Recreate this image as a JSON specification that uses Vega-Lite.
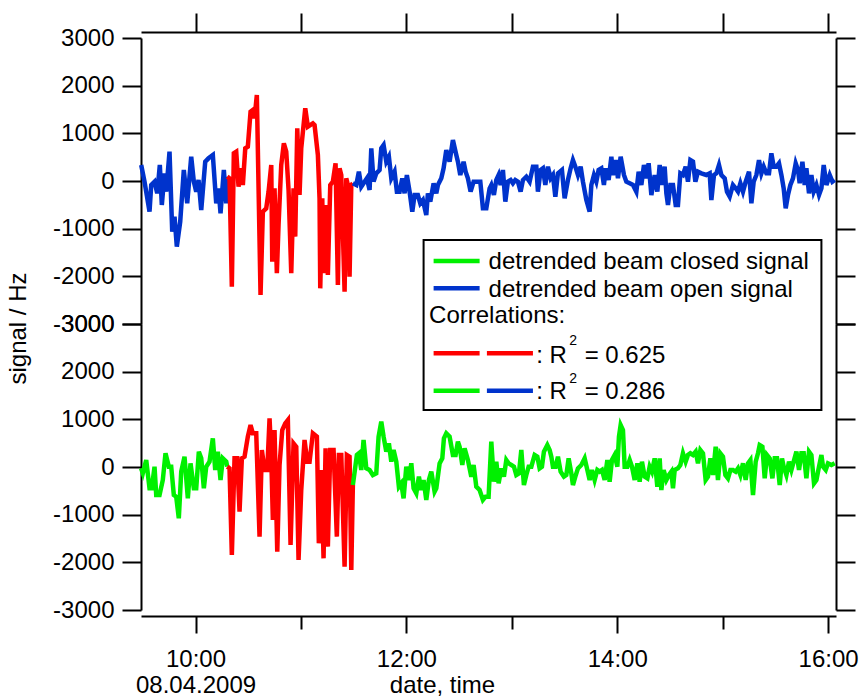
{
  "$schema": "https://vega.github.io/schema/vega-lite/v6.json",
  "background": "white",
  "padding": {"top": 12, "left": 6, "right": 0, "bottom": 0},
  "config": {
    "view": {"stroke": null},
    "font": "Liberation Sans",
    "axis": {
      "grid": false,
      "domainColor": "black",
      "domainWidth": 2,
      "tickColor": "black",
      "tickWidth": 2,
      "labelColor": "black",
      "labelFont": "Liberation Sans",
      "labelFontSize": 24,
      "titleFont": "Liberation Sans",
      "titleFontSize": 24,
      "titleFontWeight": "normal",
      "titleColor": "black"
    }
  },
  "datasets": {
    "signals": [
      {"time": "2009-04-08T09:29:05", "signal": 336, "beam": "open", "part": "before"},
      {"time": "2009-04-08T09:30:58", "signal": -14, "beam": "open", "part": "before"},
      {"time": "2009-04-08T09:33:49", "signal": -643, "beam": "open", "part": "before"},
      {"time": "2009-04-08T09:34:47", "signal": -84, "beam": "open", "part": "before"},
      {"time": "2009-04-08T09:36:40", "signal": -14, "beam": "open", "part": "before"},
      {"time": "2009-04-08T09:38:12", "signal": -259, "beam": "open", "part": "before"},
      {"time": "2009-04-08T09:39:41", "signal": 336, "beam": "open", "part": "before"},
      {"time": "2009-04-08T09:40:49", "signal": -503, "beam": "open", "part": "before"},
      {"time": "2009-04-08T09:42:21", "signal": 161, "beam": "open", "part": "before"},
      {"time": "2009-04-08T09:43:19", "signal": -224, "beam": "open", "part": "before"},
      {"time": "2009-04-08T09:45:12", "signal": 615, "beam": "open", "part": "before"},
      {"time": "2009-04-08T09:46:44", "signal": -1063, "beam": "open", "part": "before"},
      {"time": "2009-04-08T09:48:03", "signal": -748, "beam": "open", "part": "before"},
      {"time": "2009-04-08T09:49:21", "signal": -1378, "beam": "open", "part": "before"},
      {"time": "2009-04-08T09:51:17", "signal": -853, "beam": "open", "part": "before"},
      {"time": "2009-04-08T09:53:20", "signal": 231, "beam": "open", "part": "before"},
      {"time": "2009-04-08T09:55:16", "signal": -468, "beam": "open", "part": "before"},
      {"time": "2009-04-08T09:57:33", "signal": 510, "beam": "open", "part": "before"},
      {"time": "2009-04-08T09:59:02", "signal": -14, "beam": "open", "part": "before"},
      {"time": "2009-04-08T10:00:24", "signal": -224, "beam": "open", "part": "before"},
      {"time": "2009-04-08T10:01:43", "signal": 21, "beam": "open", "part": "before"},
      {"time": "2009-04-08T10:03:15", "signal": -608, "beam": "open", "part": "before"},
      {"time": "2009-04-08T10:05:31", "signal": 405, "beam": "open", "part": "before"},
      {"time": "2009-04-08T10:07:24", "signal": 476, "beam": "open", "part": "before"},
      {"time": "2009-04-08T10:09:51", "signal": 545, "beam": "open", "part": "before"},
      {"time": "2009-04-08T10:11:47", "signal": -468, "beam": "open", "part": "before"},
      {"time": "2009-04-08T10:13:05", "signal": -154, "beam": "open", "part": "before"},
      {"time": "2009-04-08T10:14:14", "signal": -678, "beam": "open", "part": "before"},
      {"time": "2009-04-08T10:16:07", "signal": 231, "beam": "open", "part": "before"},
      {"time": "2009-04-08T10:17:29", "signal": -468, "beam": "open", "part": "before"},
      {"time": "2009-04-08T10:18:03", "signal": 91, "beam": "open", "part": "before"},
      {"time": "2009-04-08T10:18:03", "signal": 91, "beam": "open", "part": "correlated"},
      {"time": "2009-04-08T10:19:21", "signal": 56, "beam": "open", "part": "correlated"},
      {"time": "2009-04-08T10:20:40", "signal": -2217, "beam": "open", "part": "correlated"},
      {"time": "2009-04-08T10:21:48", "signal": 581, "beam": "open", "part": "correlated"},
      {"time": "2009-04-08T10:23:10", "signal": 615, "beam": "open", "part": "correlated"},
      {"time": "2009-04-08T10:24:29", "signal": -120, "beam": "open", "part": "correlated"},
      {"time": "2009-04-08T10:25:37", "signal": 266, "beam": "open", "part": "correlated"},
      {"time": "2009-04-08T10:26:56", "signal": -84, "beam": "open", "part": "correlated"},
      {"time": "2009-04-08T10:28:18", "signal": 686, "beam": "open", "part": "correlated"},
      {"time": "2009-04-08T10:29:46", "signal": 720, "beam": "open", "part": "correlated"},
      {"time": "2009-04-08T10:31:19", "signal": 1454, "beam": "open", "part": "correlated"},
      {"time": "2009-04-08T10:32:37", "signal": 1490, "beam": "open", "part": "correlated"},
      {"time": "2009-04-08T10:33:35", "signal": 1315, "beam": "open", "part": "correlated"},
      {"time": "2009-04-08T10:34:54", "signal": 1804, "beam": "open", "part": "correlated"},
      {"time": "2009-04-08T10:37:00", "signal": -2392, "beam": "open", "part": "correlated"},
      {"time": "2009-04-08T10:38:19", "signal": -643, "beam": "open", "part": "correlated"},
      {"time": "2009-04-08T10:40:15", "signal": -573, "beam": "open", "part": "correlated"},
      {"time": "2009-04-08T10:41:34", "signal": -224, "beam": "open", "part": "correlated"},
      {"time": "2009-04-08T10:43:06", "signal": 336, "beam": "open", "part": "correlated"},
      {"time": "2009-04-08T10:43:40", "signal": -1693, "beam": "open", "part": "correlated"},
      {"time": "2009-04-08T10:44:58", "signal": -154, "beam": "open", "part": "correlated"},
      {"time": "2009-04-08T10:46:17", "signal": -1936, "beam": "open", "part": "correlated"},
      {"time": "2009-04-08T10:47:15", "signal": -923, "beam": "open", "part": "correlated"},
      {"time": "2009-04-08T10:48:47", "signal": 336, "beam": "open", "part": "correlated"},
      {"time": "2009-04-08T10:50:16", "signal": 791, "beam": "open", "part": "correlated"},
      {"time": "2009-04-08T10:51:38", "signal": 615, "beam": "open", "part": "correlated"},
      {"time": "2009-04-08T10:52:57", "signal": -189, "beam": "open", "part": "correlated"},
      {"time": "2009-04-08T10:54:29", "signal": -1936, "beam": "open", "part": "correlated"},
      {"time": "2009-04-08T10:55:47", "signal": -154, "beam": "open", "part": "correlated"},
      {"time": "2009-04-08T10:56:45", "signal": -1168, "beam": "open", "part": "correlated"},
      {"time": "2009-04-08T10:57:54", "signal": 1105, "beam": "open", "part": "correlated"},
      {"time": "2009-04-08T10:59:12", "signal": -294, "beam": "open", "part": "correlated"},
      {"time": "2009-04-08T11:00:10", "signal": 686, "beam": "open", "part": "correlated"},
      {"time": "2009-04-08T11:02:27", "signal": 1525, "beam": "open", "part": "correlated"},
      {"time": "2009-04-08T11:03:56", "signal": 1140, "beam": "open", "part": "correlated"},
      {"time": "2009-04-08T11:06:47", "signal": 1210, "beam": "open", "part": "correlated"},
      {"time": "2009-04-08T11:07:45", "signal": 1175, "beam": "open", "part": "correlated"},
      {"time": "2009-04-08T11:09:38", "signal": 545, "beam": "open", "part": "correlated"},
      {"time": "2009-04-08T11:10:35", "signal": -363, "beam": "open", "part": "correlated"},
      {"time": "2009-04-08T11:10:59", "signal": -2252, "beam": "open", "part": "correlated"},
      {"time": "2009-04-08T11:12:08", "signal": -363, "beam": "open", "part": "correlated"},
      {"time": "2009-04-08T11:12:52", "signal": -1936, "beam": "open", "part": "correlated"},
      {"time": "2009-04-08T11:14:24", "signal": -503, "beam": "open", "part": "correlated"},
      {"time": "2009-04-08T11:15:19", "signal": -1972, "beam": "open", "part": "correlated"},
      {"time": "2009-04-08T11:16:41", "signal": -84, "beam": "open", "part": "correlated"},
      {"time": "2009-04-08T11:18:10", "signal": -14, "beam": "open", "part": "correlated"},
      {"time": "2009-04-08T11:19:42", "signal": 371, "beam": "open", "part": "correlated"},
      {"time": "2009-04-08T11:21:01", "signal": -2182, "beam": "open", "part": "correlated"},
      {"time": "2009-04-08T11:21:59", "signal": 266, "beam": "open", "part": "correlated"},
      {"time": "2009-04-08T11:22:57", "signal": 126, "beam": "open", "part": "correlated"},
      {"time": "2009-04-08T11:24:50", "signal": -2322, "beam": "open", "part": "correlated"},
      {"time": "2009-04-08T11:25:48", "signal": 56, "beam": "open", "part": "correlated"},
      {"time": "2009-04-08T11:26:42", "signal": -84, "beam": "open", "part": "correlated"},
      {"time": "2009-04-08T11:27:40", "signal": -2007, "beam": "open", "part": "correlated"},
      {"time": "2009-04-08T11:28:39", "signal": -84, "beam": "open", "part": "correlated"},
      {"time": "2009-04-08T11:29:33", "signal": -49, "beam": "open", "part": "correlated"},
      {"time": "2009-04-08T11:29:33", "signal": -49, "beam": "open", "part": "after"},
      {"time": "2009-04-08T11:31:29", "signal": -84, "beam": "open", "part": "after"},
      {"time": "2009-04-08T11:32:58", "signal": 196, "beam": "open", "part": "after"},
      {"time": "2009-04-08T11:34:20", "signal": -120, "beam": "open", "part": "after"},
      {"time": "2009-04-08T11:36:13", "signal": -14, "beam": "open", "part": "after"},
      {"time": "2009-04-08T11:37:31", "signal": 56, "beam": "open", "part": "after"},
      {"time": "2009-04-08T11:39:04", "signal": -189, "beam": "open", "part": "after"},
      {"time": "2009-04-08T11:40:02", "signal": 686, "beam": "open", "part": "after"},
      {"time": "2009-04-08T11:41:20", "signal": -14, "beam": "open", "part": "after"},
      {"time": "2009-04-08T11:42:52", "signal": 161, "beam": "open", "part": "after"},
      {"time": "2009-04-08T11:44:45", "signal": 231, "beam": "open", "part": "after"},
      {"time": "2009-04-08T11:45:43", "signal": 686, "beam": "open", "part": "after"},
      {"time": "2009-04-08T11:47:02", "signal": 755, "beam": "open", "part": "after"},
      {"time": "2009-04-08T11:48:34", "signal": 405, "beam": "open", "part": "after"},
      {"time": "2009-04-08T11:50:03", "signal": 510, "beam": "open", "part": "after"},
      {"time": "2009-04-08T11:51:25", "signal": 56, "beam": "open", "part": "after"},
      {"time": "2009-04-08T11:53:17", "signal": 196, "beam": "open", "part": "after"},
      {"time": "2009-04-08T11:54:36", "signal": -224, "beam": "open", "part": "after"},
      {"time": "2009-04-08T11:56:08", "signal": -224, "beam": "open", "part": "after"},
      {"time": "2009-04-08T11:57:41", "signal": 56, "beam": "open", "part": "after"},
      {"time": "2009-04-08T11:58:59", "signal": -259, "beam": "open", "part": "after"},
      {"time": "2009-04-08T12:00:17", "signal": 126, "beam": "open", "part": "after"},
      {"time": "2009-04-08T12:01:50", "signal": -224, "beam": "open", "part": "after"},
      {"time": "2009-04-08T12:03:22", "signal": -643, "beam": "open", "part": "after"},
      {"time": "2009-04-08T12:04:41", "signal": -294, "beam": "open", "part": "after"},
      {"time": "2009-04-08T12:06:33", "signal": -294, "beam": "open", "part": "after"},
      {"time": "2009-04-08T12:07:55", "signal": -468, "beam": "open", "part": "after"},
      {"time": "2009-04-08T12:09:24", "signal": -399, "beam": "open", "part": "after"},
      {"time": "2009-04-08T12:11:20", "signal": -713, "beam": "open", "part": "after"},
      {"time": "2009-04-08T12:12:15", "signal": -259, "beam": "open", "part": "after"},
      {"time": "2009-04-08T12:13:37", "signal": -434, "beam": "open", "part": "after"},
      {"time": "2009-04-08T12:15:30", "signal": -49, "beam": "open", "part": "after"},
      {"time": "2009-04-08T12:17:02", "signal": -259, "beam": "open", "part": "after"},
      {"time": "2009-04-08T12:17:57", "signal": -84, "beam": "open", "part": "after"},
      {"time": "2009-04-08T12:19:53", "signal": 56, "beam": "open", "part": "after"},
      {"time": "2009-04-08T12:21:11", "signal": 266, "beam": "open", "part": "after"},
      {"time": "2009-04-08T12:22:43", "signal": 650, "beam": "open", "part": "after"},
      {"time": "2009-04-08T12:24:36", "signal": 405, "beam": "open", "part": "after"},
      {"time": "2009-04-08T12:26:29", "signal": 860, "beam": "open", "part": "after"},
      {"time": "2009-04-08T12:28:25", "signal": 545, "beam": "open", "part": "after"},
      {"time": "2009-04-08T12:29:20", "signal": 405, "beam": "open", "part": "after"},
      {"time": "2009-04-08T12:30:41", "signal": 126, "beam": "open", "part": "after"},
      {"time": "2009-04-08T12:32:34", "signal": 405, "beam": "open", "part": "after"},
      {"time": "2009-04-08T12:33:43", "signal": 196, "beam": "open", "part": "after"},
      {"time": "2009-04-08T12:35:01", "signal": 56, "beam": "open", "part": "after"},
      {"time": "2009-04-08T12:36:33", "signal": -224, "beam": "open", "part": "after"},
      {"time": "2009-04-08T12:38:16", "signal": -14, "beam": "open", "part": "after"},
      {"time": "2009-04-08T12:39:48", "signal": -14, "beam": "open", "part": "after"},
      {"time": "2009-04-08T12:42:05", "signal": -14, "beam": "open", "part": "after"},
      {"time": "2009-04-08T12:43:34", "signal": -573, "beam": "open", "part": "after"},
      {"time": "2009-04-08T12:45:30", "signal": -573, "beam": "open", "part": "after"},
      {"time": "2009-04-08T12:47:22", "signal": -154, "beam": "open", "part": "after"},
      {"time": "2009-04-08T12:48:20", "signal": -84, "beam": "open", "part": "after"},
      {"time": "2009-04-08T12:49:49", "signal": -294, "beam": "open", "part": "after"},
      {"time": "2009-04-08T12:51:11", "signal": 21, "beam": "open", "part": "after"},
      {"time": "2009-04-08T12:52:30", "signal": 126, "beam": "open", "part": "after"},
      {"time": "2009-04-08T12:53:38", "signal": -84, "beam": "open", "part": "after"},
      {"time": "2009-04-08T12:54:57", "signal": 231, "beam": "open", "part": "after"},
      {"time": "2009-04-08T12:56:19", "signal": -434, "beam": "open", "part": "after"},
      {"time": "2009-04-08T12:57:47", "signal": -14, "beam": "open", "part": "after"},
      {"time": "2009-04-08T12:59:20", "signal": 21, "beam": "open", "part": "after"},
      {"time": "2009-04-08T13:00:38", "signal": -49, "beam": "open", "part": "after"},
      {"time": "2009-04-08T13:02:00", "signal": 21, "beam": "open", "part": "after"},
      {"time": "2009-04-08T13:03:29", "signal": -14, "beam": "open", "part": "after"},
      {"time": "2009-04-08T13:05:01", "signal": -224, "beam": "open", "part": "after"},
      {"time": "2009-04-08T13:06:20", "signal": 21, "beam": "open", "part": "after"},
      {"time": "2009-04-08T13:08:16", "signal": 91, "beam": "open", "part": "after"},
      {"time": "2009-04-08T13:10:09", "signal": -14, "beam": "open", "part": "after"},
      {"time": "2009-04-08T13:12:02", "signal": 301, "beam": "open", "part": "after"},
      {"time": "2009-04-08T13:13:58", "signal": 301, "beam": "open", "part": "after"},
      {"time": "2009-04-08T13:14:52", "signal": -224, "beam": "open", "part": "after"},
      {"time": "2009-04-08T13:16:25", "signal": 231, "beam": "open", "part": "after"},
      {"time": "2009-04-08T13:17:43", "signal": 266, "beam": "open", "part": "after"},
      {"time": "2009-04-08T13:19:05", "signal": -84, "beam": "open", "part": "after"},
      {"time": "2009-04-08T13:20:34", "signal": 301, "beam": "open", "part": "after"},
      {"time": "2009-04-08T13:22:06", "signal": 56, "beam": "open", "part": "after"},
      {"time": "2009-04-08T13:23:25", "signal": 126, "beam": "open", "part": "after"},
      {"time": "2009-04-08T13:24:47", "signal": -329, "beam": "open", "part": "after"},
      {"time": "2009-04-08T13:26:16", "signal": 161, "beam": "open", "part": "after"},
      {"time": "2009-04-08T13:28:32", "signal": 231, "beam": "open", "part": "after"},
      {"time": "2009-04-08T13:30:04", "signal": -363, "beam": "open", "part": "after"},
      {"time": "2009-04-08T13:31:57", "signal": 21, "beam": "open", "part": "after"},
      {"time": "2009-04-08T13:33:29", "signal": 266, "beam": "open", "part": "after"},
      {"time": "2009-04-08T13:34:48", "signal": 440, "beam": "open", "part": "after"},
      {"time": "2009-04-08T13:36:10", "signal": 301, "beam": "open", "part": "after"},
      {"time": "2009-04-08T13:37:39", "signal": 126, "beam": "open", "part": "after"},
      {"time": "2009-04-08T13:39:11", "signal": 301, "beam": "open", "part": "after"},
      {"time": "2009-04-08T13:40:29", "signal": -14, "beam": "open", "part": "after"},
      {"time": "2009-04-08T13:42:26", "signal": -399, "beam": "open", "part": "after"},
      {"time": "2009-04-08T13:44:18", "signal": -643, "beam": "open", "part": "after"},
      {"time": "2009-04-08T13:45:16", "signal": -84, "beam": "open", "part": "after"},
      {"time": "2009-04-08T13:46:45", "signal": 126, "beam": "open", "part": "after"},
      {"time": "2009-04-08T13:48:07", "signal": -14, "beam": "open", "part": "after"},
      {"time": "2009-04-08T13:49:25", "signal": 231, "beam": "open", "part": "after"},
      {"time": "2009-04-08T13:50:58", "signal": 266, "beam": "open", "part": "after"},
      {"time": "2009-04-08T13:52:26", "signal": -84, "beam": "open", "part": "after"},
      {"time": "2009-04-08T13:53:25", "signal": 266, "beam": "open", "part": "after"},
      {"time": "2009-04-08T13:55:07", "signal": 21, "beam": "open", "part": "after"},
      {"time": "2009-04-08T13:56:40", "signal": 510, "beam": "open", "part": "after"},
      {"time": "2009-04-08T13:57:34", "signal": 126, "beam": "open", "part": "after"},
      {"time": "2009-04-08T13:59:07", "signal": 440, "beam": "open", "part": "after"},
      {"time": "2009-04-08T14:00:25", "signal": 56, "beam": "open", "part": "after"},
      {"time": "2009-04-08T14:01:57", "signal": 510, "beam": "open", "part": "after"},
      {"time": "2009-04-08T14:03:50", "signal": 126, "beam": "open", "part": "after"},
      {"time": "2009-04-08T14:05:12", "signal": -14, "beam": "open", "part": "after"},
      {"time": "2009-04-08T14:07:05", "signal": -49, "beam": "open", "part": "after"},
      {"time": "2009-04-08T14:08:58", "signal": -84, "beam": "open", "part": "after"},
      {"time": "2009-04-08T14:10:53", "signal": -224, "beam": "open", "part": "after"},
      {"time": "2009-04-08T14:12:12", "signal": 196, "beam": "open", "part": "after"},
      {"time": "2009-04-08T14:13:44", "signal": -84, "beam": "open", "part": "after"},
      {"time": "2009-04-08T14:15:13", "signal": 336, "beam": "open", "part": "after"},
      {"time": "2009-04-08T14:16:35", "signal": 56, "beam": "open", "part": "after"},
      {"time": "2009-04-08T14:17:53", "signal": 371, "beam": "open", "part": "after"},
      {"time": "2009-04-08T14:19:26", "signal": -294, "beam": "open", "part": "after"},
      {"time": "2009-04-08T14:21:19", "signal": 126, "beam": "open", "part": "after"},
      {"time": "2009-04-08T14:22:50", "signal": -224, "beam": "open", "part": "after"},
      {"time": "2009-04-08T14:24:10", "signal": 336, "beam": "open", "part": "after"},
      {"time": "2009-04-08T14:25:41", "signal": -84, "beam": "open", "part": "after"},
      {"time": "2009-04-08T14:27:00", "signal": 301, "beam": "open", "part": "after"},
      {"time": "2009-04-08T14:27:58", "signal": -259, "beam": "open", "part": "after"},
      {"time": "2009-04-08T14:28:53", "signal": -503, "beam": "open", "part": "after"},
      {"time": "2009-04-08T14:30:15", "signal": -84, "beam": "open", "part": "after"},
      {"time": "2009-04-08T14:31:44", "signal": -84, "beam": "open", "part": "after"},
      {"time": "2009-04-08T14:33:16", "signal": -503, "beam": "open", "part": "after"},
      {"time": "2009-04-08T14:34:34", "signal": -503, "beam": "open", "part": "after"},
      {"time": "2009-04-08T14:35:56", "signal": 161, "beam": "open", "part": "after"},
      {"time": "2009-04-08T14:37:25", "signal": 126, "beam": "open", "part": "after"},
      {"time": "2009-04-08T14:38:57", "signal": 301, "beam": "open", "part": "after"},
      {"time": "2009-04-08T14:40:16", "signal": -14, "beam": "open", "part": "after"},
      {"time": "2009-04-08T14:41:38", "signal": 440, "beam": "open", "part": "after"},
      {"time": "2009-04-08T14:43:07", "signal": 405, "beam": "open", "part": "after"},
      {"time": "2009-04-08T14:44:29", "signal": -14, "beam": "open", "part": "after"},
      {"time": "2009-04-08T14:45:58", "signal": 196, "beam": "open", "part": "after"},
      {"time": "2009-04-08T14:47:54", "signal": 161, "beam": "open", "part": "after"},
      {"time": "2009-04-08T14:50:44", "signal": 126, "beam": "open", "part": "after"},
      {"time": "2009-04-08T14:52:37", "signal": 161, "beam": "open", "part": "after"},
      {"time": "2009-04-08T14:53:35", "signal": -399, "beam": "open", "part": "after"},
      {"time": "2009-04-08T14:55:04", "signal": 126, "beam": "open", "part": "after"},
      {"time": "2009-04-08T14:56:26", "signal": 161, "beam": "open", "part": "after"},
      {"time": "2009-04-08T14:57:55", "signal": 336, "beam": "open", "part": "after"},
      {"time": "2009-04-08T14:59:17", "signal": 126, "beam": "open", "part": "after"},
      {"time": "2009-04-08T15:01:10", "signal": 56, "beam": "open", "part": "after"},
      {"time": "2009-04-08T15:02:28", "signal": -224, "beam": "open", "part": "after"},
      {"time": "2009-04-08T15:04:01", "signal": -329, "beam": "open", "part": "after"},
      {"time": "2009-04-08T15:05:53", "signal": -84, "beam": "open", "part": "after"},
      {"time": "2009-04-08T15:07:25", "signal": -154, "beam": "open", "part": "after"},
      {"time": "2009-04-08T15:08:44", "signal": -224, "beam": "open", "part": "after"},
      {"time": "2009-04-08T15:10:06", "signal": -49, "beam": "open", "part": "after"},
      {"time": "2009-04-08T15:11:35", "signal": -224, "beam": "open", "part": "after"},
      {"time": "2009-04-08T15:13:07", "signal": -14, "beam": "open", "part": "after"},
      {"time": "2009-04-08T15:15:00", "signal": 196, "beam": "open", "part": "after"},
      {"time": "2009-04-08T15:16:22", "signal": -468, "beam": "open", "part": "after"},
      {"time": "2009-04-08T15:17:40", "signal": -14, "beam": "open", "part": "after"},
      {"time": "2009-04-08T15:19:13", "signal": 126, "beam": "open", "part": "after"},
      {"time": "2009-04-08T15:20:41", "signal": 440, "beam": "open", "part": "after"},
      {"time": "2009-04-08T15:22:03", "signal": 161, "beam": "open", "part": "after"},
      {"time": "2009-04-08T15:23:22", "signal": 301, "beam": "open", "part": "after"},
      {"time": "2009-04-08T15:24:54", "signal": 161, "beam": "open", "part": "after"},
      {"time": "2009-04-08T15:26:23", "signal": 161, "beam": "open", "part": "after"},
      {"time": "2009-04-08T15:27:44", "signal": 581, "beam": "open", "part": "after"},
      {"time": "2009-04-08T15:29:03", "signal": 301, "beam": "open", "part": "after"},
      {"time": "2009-04-08T15:30:35", "signal": 301, "beam": "open", "part": "after"},
      {"time": "2009-04-08T15:32:04", "signal": 371, "beam": "open", "part": "after"},
      {"time": "2009-04-08T15:33:26", "signal": 126, "beam": "open", "part": "after"},
      {"time": "2009-04-08T15:34:44", "signal": -154, "beam": "open", "part": "after"},
      {"time": "2009-04-08T15:35:53", "signal": -573, "beam": "open", "part": "after"},
      {"time": "2009-04-08T15:37:11", "signal": -294, "beam": "open", "part": "after"},
      {"time": "2009-04-08T15:38:33", "signal": -84, "beam": "open", "part": "after"},
      {"time": "2009-04-08T15:40:02", "signal": 56, "beam": "open", "part": "after"},
      {"time": "2009-04-08T15:41:35", "signal": 371, "beam": "open", "part": "after"},
      {"time": "2009-04-08T15:42:53", "signal": 231, "beam": "open", "part": "after"},
      {"time": "2009-04-08T15:43:51", "signal": -49, "beam": "open", "part": "after"},
      {"time": "2009-04-08T15:45:24", "signal": 405, "beam": "open", "part": "after"},
      {"time": "2009-04-08T15:46:42", "signal": -84, "beam": "open", "part": "after"},
      {"time": "2009-04-08T15:47:40", "signal": 266, "beam": "open", "part": "after"},
      {"time": "2009-04-08T15:49:09", "signal": -259, "beam": "open", "part": "after"},
      {"time": "2009-04-08T15:50:31", "signal": 126, "beam": "open", "part": "after"},
      {"time": "2009-04-08T15:51:50", "signal": -224, "beam": "open", "part": "after"},
      {"time": "2009-04-08T15:53:22", "signal": -84, "beam": "open", "part": "after"},
      {"time": "2009-04-08T15:54:51", "signal": -294, "beam": "open", "part": "after"},
      {"time": "2009-04-08T15:56:13", "signal": -154, "beam": "open", "part": "after"},
      {"time": "2009-04-08T15:57:31", "signal": 336, "beam": "open", "part": "after"},
      {"time": "2009-04-08T15:59:04", "signal": -84, "beam": "open", "part": "after"},
      {"time": "2009-04-08T16:00:56", "signal": 126, "beam": "open", "part": "after"},
      {"time": "2009-04-08T16:02:28", "signal": -14, "beam": "open", "part": "after"},
      {"time": "2009-04-08T16:03:47", "signal": 21, "beam": "open", "part": "after"},

      {"time": "2009-04-08T09:29:00", "signal": -28, "beam": "closed", "part": "before"},
      {"time": "2009-04-08T09:30:00", "signal": -133, "beam": "closed", "part": "before"},
      {"time": "2009-04-08T09:31:56", "signal": 147, "beam": "closed", "part": "before"},
      {"time": "2009-04-08T09:33:49", "signal": -447, "beam": "closed", "part": "before"},
      {"time": "2009-04-08T09:35:07", "signal": -447, "beam": "closed", "part": "before"},
      {"time": "2009-04-08T09:36:40", "signal": 7, "beam": "closed", "part": "before"},
      {"time": "2009-04-08T09:37:38", "signal": -587, "beam": "closed", "part": "before"},
      {"time": "2009-04-08T09:39:31", "signal": -587, "beam": "closed", "part": "before"},
      {"time": "2009-04-08T09:41:23", "signal": -273, "beam": "closed", "part": "before"},
      {"time": "2009-04-08T09:42:55", "signal": 287, "beam": "closed", "part": "before"},
      {"time": "2009-04-08T09:44:48", "signal": 7, "beam": "closed", "part": "before"},
      {"time": "2009-04-08T09:46:10", "signal": 7, "beam": "closed", "part": "before"},
      {"time": "2009-04-08T09:47:39", "signal": -587, "beam": "closed", "part": "before"},
      {"time": "2009-04-08T09:49:01", "signal": -623, "beam": "closed", "part": "before"},
      {"time": "2009-04-08T09:50:29", "signal": -1077, "beam": "closed", "part": "before"},
      {"time": "2009-04-08T09:51:52", "signal": -98, "beam": "closed", "part": "before"},
      {"time": "2009-04-08T09:53:44", "signal": 217, "beam": "closed", "part": "before"},
      {"time": "2009-04-08T09:55:37", "signal": -657, "beam": "closed", "part": "before"},
      {"time": "2009-04-08T09:57:09", "signal": 77, "beam": "closed", "part": "before"},
      {"time": "2009-04-08T09:59:02", "signal": -447, "beam": "closed", "part": "before"},
      {"time": "2009-04-08T10:00:24", "signal": -447, "beam": "closed", "part": "before"},
      {"time": "2009-04-08T10:01:53", "signal": 322, "beam": "closed", "part": "before"},
      {"time": "2009-04-08T10:03:15", "signal": 182, "beam": "closed", "part": "before"},
      {"time": "2009-04-08T10:04:44", "signal": -447, "beam": "closed", "part": "before"},
      {"time": "2009-04-08T10:06:05", "signal": 7, "beam": "closed", "part": "before"},
      {"time": "2009-04-08T10:07:58", "signal": 112, "beam": "closed", "part": "before"},
      {"time": "2009-04-08T10:09:51", "signal": 601, "beam": "closed", "part": "before"},
      {"time": "2009-04-08T10:11:13", "signal": -63, "beam": "closed", "part": "before"},
      {"time": "2009-04-08T10:12:42", "signal": 322, "beam": "closed", "part": "before"},
      {"time": "2009-04-08T10:14:14", "signal": -273, "beam": "closed", "part": "before"},
      {"time": "2009-04-08T10:15:32", "signal": 182, "beam": "closed", "part": "before"},
      {"time": "2009-04-08T10:17:29", "signal": 112, "beam": "closed", "part": "before"},
      {"time": "2009-04-08T10:18:03", "signal": 7, "beam": "closed", "part": "before"},
      {"time": "2009-04-08T10:18:03", "signal": 7, "beam": "closed", "part": "correlated"},
      {"time": "2009-04-08T10:19:21", "signal": -28, "beam": "closed", "part": "correlated"},
      {"time": "2009-04-08T10:20:40", "signal": -1846, "beam": "closed", "part": "correlated"},
      {"time": "2009-04-08T10:22:12", "signal": 182, "beam": "closed", "part": "correlated"},
      {"time": "2009-04-08T10:23:44", "signal": 182, "beam": "closed", "part": "correlated"},
      {"time": "2009-04-08T10:25:03", "signal": -937, "beam": "closed", "part": "correlated"},
      {"time": "2009-04-08T10:26:22", "signal": 182, "beam": "closed", "part": "correlated"},
      {"time": "2009-04-08T10:27:54", "signal": 217, "beam": "closed", "part": "correlated"},
      {"time": "2009-04-08T10:29:46", "signal": 636, "beam": "closed", "part": "correlated"},
      {"time": "2009-04-08T10:31:19", "signal": 881, "beam": "closed", "part": "correlated"},
      {"time": "2009-04-08T10:32:37", "signal": 706, "beam": "closed", "part": "correlated"},
      {"time": "2009-04-08T10:34:33", "signal": 706, "beam": "closed", "part": "correlated"},
      {"time": "2009-04-08T10:36:26", "signal": -1462, "beam": "closed", "part": "correlated"},
      {"time": "2009-04-08T10:37:45", "signal": 357, "beam": "closed", "part": "correlated"},
      {"time": "2009-04-08T10:39:17", "signal": -63, "beam": "closed", "part": "correlated"},
      {"time": "2009-04-08T10:40:49", "signal": -63, "beam": "closed", "part": "correlated"},
      {"time": "2009-04-08T10:42:08", "signal": 1021, "beam": "closed", "part": "correlated"},
      {"time": "2009-04-08T10:43:06", "signal": 217, "beam": "closed", "part": "correlated"},
      {"time": "2009-04-08T10:44:01", "signal": -1112, "beam": "closed", "part": "correlated"},
      {"time": "2009-04-08T10:44:58", "signal": 776, "beam": "closed", "part": "correlated"},
      {"time": "2009-04-08T10:46:31", "signal": -1776, "beam": "closed", "part": "correlated"},
      {"time": "2009-04-08T10:47:49", "signal": 42, "beam": "closed", "part": "correlated"},
      {"time": "2009-04-08T10:49:22", "signal": 776, "beam": "closed", "part": "correlated"},
      {"time": "2009-04-08T10:51:04", "signal": 916, "beam": "closed", "part": "correlated"},
      {"time": "2009-04-08T10:52:33", "signal": 986, "beam": "closed", "part": "correlated"},
      {"time": "2009-04-08T10:54:05", "signal": -1636, "beam": "closed", "part": "correlated"},
      {"time": "2009-04-08T10:55:47", "signal": 497, "beam": "closed", "part": "correlated"},
      {"time": "2009-04-08T10:57:20", "signal": 426, "beam": "closed", "part": "correlated"},
      {"time": "2009-04-08T10:58:38", "signal": -1951, "beam": "closed", "part": "correlated"},
      {"time": "2009-04-08T11:00:10", "signal": -483, "beam": "closed", "part": "correlated"},
      {"time": "2009-04-08T11:02:03", "signal": 566, "beam": "closed", "part": "correlated"},
      {"time": "2009-04-08T11:03:35", "signal": 112, "beam": "closed", "part": "correlated"},
      {"time": "2009-04-08T11:04:54", "signal": 112, "beam": "closed", "part": "correlated"},
      {"time": "2009-04-08T11:06:47", "signal": 706, "beam": "closed", "part": "correlated"},
      {"time": "2009-04-08T11:09:04", "signal": 636, "beam": "closed", "part": "correlated"},
      {"time": "2009-04-08T11:10:11", "signal": -1601, "beam": "closed", "part": "correlated"},
      {"time": "2009-04-08T11:11:34", "signal": -63, "beam": "closed", "part": "correlated"},
      {"time": "2009-04-08T11:12:52", "signal": -1916, "beam": "closed", "part": "correlated"},
      {"time": "2009-04-08T11:14:01", "signal": 392, "beam": "closed", "part": "correlated"},
      {"time": "2009-04-08T11:15:19", "signal": -1671, "beam": "closed", "part": "correlated"},
      {"time": "2009-04-08T11:16:41", "signal": 357, "beam": "closed", "part": "correlated"},
      {"time": "2009-04-08T11:18:34", "signal": 357, "beam": "closed", "part": "correlated"},
      {"time": "2009-04-08T11:20:26", "signal": -1462, "beam": "closed", "part": "correlated"},
      {"time": "2009-04-08T11:21:35", "signal": 252, "beam": "closed", "part": "correlated"},
      {"time": "2009-04-08T11:22:57", "signal": 252, "beam": "closed", "part": "correlated"},
      {"time": "2009-04-08T11:24:50", "signal": -2091, "beam": "closed", "part": "correlated"},
      {"time": "2009-04-08T11:26:08", "signal": 252, "beam": "closed", "part": "correlated"},
      {"time": "2009-04-08T11:27:40", "signal": 217, "beam": "closed", "part": "correlated"},
      {"time": "2009-04-08T11:28:39", "signal": -2161, "beam": "closed", "part": "correlated"},
      {"time": "2009-04-08T11:29:33", "signal": -378, "beam": "closed", "part": "correlated"},
      {"time": "2009-04-08T11:29:33", "signal": -378, "beam": "closed", "part": "after"},
      {"time": "2009-04-08T11:31:50", "signal": 252, "beam": "closed", "part": "after"},
      {"time": "2009-04-08T11:32:58", "signal": 287, "beam": "closed", "part": "after"},
      {"time": "2009-04-08T11:34:20", "signal": -63, "beam": "closed", "part": "after"},
      {"time": "2009-04-08T11:35:38", "signal": 566, "beam": "closed", "part": "after"},
      {"time": "2009-04-08T11:37:11", "signal": -28, "beam": "closed", "part": "after"},
      {"time": "2009-04-08T11:39:04", "signal": -63, "beam": "closed", "part": "after"},
      {"time": "2009-04-08T11:40:56", "signal": -168, "beam": "closed", "part": "after"},
      {"time": "2009-04-08T11:42:52", "signal": -133, "beam": "closed", "part": "after"},
      {"time": "2009-04-08T11:44:11", "signal": 636, "beam": "closed", "part": "after"},
      {"time": "2009-04-08T11:45:43", "signal": 951, "beam": "closed", "part": "after"},
      {"time": "2009-04-08T11:47:02", "signal": 636, "beam": "closed", "part": "after"},
      {"time": "2009-04-08T11:48:34", "signal": 322, "beam": "closed", "part": "after"},
      {"time": "2009-04-08T11:50:03", "signal": 497, "beam": "closed", "part": "after"},
      {"time": "2009-04-08T11:51:25", "signal": 112, "beam": "closed", "part": "after"},
      {"time": "2009-04-08T11:52:43", "signal": 357, "beam": "closed", "part": "after"},
      {"time": "2009-04-08T11:54:16", "signal": 112, "beam": "closed", "part": "after"},
      {"time": "2009-04-08T11:55:44", "signal": -413, "beam": "closed", "part": "after"},
      {"time": "2009-04-08T11:57:06", "signal": -343, "beam": "closed", "part": "after"},
      {"time": "2009-04-08T11:58:25", "signal": -657, "beam": "closed", "part": "after"},
      {"time": "2009-04-08T11:59:57", "signal": 7, "beam": "closed", "part": "after"},
      {"time": "2009-04-08T12:01:26", "signal": -273, "beam": "closed", "part": "after"},
      {"time": "2009-04-08T12:02:48", "signal": 77, "beam": "closed", "part": "after"},
      {"time": "2009-04-08T12:04:07", "signal": -447, "beam": "closed", "part": "after"},
      {"time": "2009-04-08T12:05:39", "signal": -552, "beam": "closed", "part": "after"},
      {"time": "2009-04-08T12:07:08", "signal": -203, "beam": "closed", "part": "after"},
      {"time": "2009-04-08T12:08:29", "signal": -483, "beam": "closed", "part": "after"},
      {"time": "2009-04-08T12:09:48", "signal": -273, "beam": "closed", "part": "after"},
      {"time": "2009-04-08T12:11:20", "signal": -692, "beam": "closed", "part": "after"},
      {"time": "2009-04-08T12:12:49", "signal": -273, "beam": "closed", "part": "after"},
      {"time": "2009-04-08T12:14:11", "signal": -98, "beam": "closed", "part": "after"},
      {"time": "2009-04-08T12:16:04", "signal": -517, "beam": "closed", "part": "after"},
      {"time": "2009-04-08T12:17:02", "signal": -447, "beam": "closed", "part": "after"},
      {"time": "2009-04-08T12:18:55", "signal": 77, "beam": "closed", "part": "after"},
      {"time": "2009-04-08T12:20:27", "signal": 182, "beam": "closed", "part": "after"},
      {"time": "2009-04-08T12:21:22", "signal": 601, "beam": "closed", "part": "after"},
      {"time": "2009-04-08T12:22:43", "signal": 706, "beam": "closed", "part": "after"},
      {"time": "2009-04-08T12:24:36", "signal": 636, "beam": "closed", "part": "after"},
      {"time": "2009-04-08T12:26:29", "signal": 252, "beam": "closed", "part": "after"},
      {"time": "2009-04-08T12:28:01", "signal": 252, "beam": "closed", "part": "after"},
      {"time": "2009-04-08T12:29:20", "signal": 531, "beam": "closed", "part": "after"},
      {"time": "2009-04-08T12:30:18", "signal": 426, "beam": "closed", "part": "after"},
      {"time": "2009-04-08T12:31:50", "signal": 42, "beam": "closed", "part": "after"},
      {"time": "2009-04-08T12:33:08", "signal": 392, "beam": "closed", "part": "after"},
      {"time": "2009-04-08T12:35:01", "signal": 147, "beam": "closed", "part": "after"},
      {"time": "2009-04-08T12:36:58", "signal": -203, "beam": "closed", "part": "after"},
      {"time": "2009-04-08T12:38:16", "signal": 42, "beam": "closed", "part": "after"},
      {"time": "2009-04-08T12:39:48", "signal": -413, "beam": "closed", "part": "after"},
      {"time": "2009-04-08T12:41:41", "signal": -483, "beam": "closed", "part": "after"},
      {"time": "2009-04-08T12:43:34", "signal": -692, "beam": "closed", "part": "after"},
      {"time": "2009-04-08T12:45:06", "signal": -623, "beam": "closed", "part": "after"},
      {"time": "2009-04-08T12:46:48", "signal": -623, "beam": "closed", "part": "after"},
      {"time": "2009-04-08T12:48:20", "signal": 531, "beam": "closed", "part": "after"},
      {"time": "2009-04-08T12:49:49", "signal": -308, "beam": "closed", "part": "after"},
      {"time": "2009-04-08T12:51:11", "signal": 112, "beam": "closed", "part": "after"},
      {"time": "2009-04-08T12:52:30", "signal": -343, "beam": "closed", "part": "after"},
      {"time": "2009-04-08T12:54:02", "signal": -28, "beam": "closed", "part": "after"},
      {"time": "2009-04-08T12:55:31", "signal": -203, "beam": "closed", "part": "after"},
      {"time": "2009-04-08T12:56:53", "signal": 147, "beam": "closed", "part": "after"},
      {"time": "2009-04-08T12:58:11", "signal": 77, "beam": "closed", "part": "after"},
      {"time": "2009-04-08T12:59:44", "signal": 42, "beam": "closed", "part": "after"},
      {"time": "2009-04-08T13:01:13", "signal": 7, "beam": "closed", "part": "after"},
      {"time": "2009-04-08T13:02:34", "signal": -168, "beam": "closed", "part": "after"},
      {"time": "2009-04-08T13:04:04", "signal": -133, "beam": "closed", "part": "after"},
      {"time": "2009-04-08T13:05:25", "signal": 357, "beam": "closed", "part": "after"},
      {"time": "2009-04-08T13:06:54", "signal": -378, "beam": "closed", "part": "after"},
      {"time": "2009-04-08T13:08:16", "signal": -168, "beam": "closed", "part": "after"},
      {"time": "2009-04-08T13:09:35", "signal": 7, "beam": "closed", "part": "after"},
      {"time": "2009-04-08T13:11:07", "signal": 7, "beam": "closed", "part": "after"},
      {"time": "2009-04-08T13:13:00", "signal": 252, "beam": "closed", "part": "after"},
      {"time": "2009-04-08T13:14:32", "signal": 217, "beam": "closed", "part": "after"},
      {"time": "2009-04-08T13:15:50", "signal": -28, "beam": "closed", "part": "after"},
      {"time": "2009-04-08T13:17:09", "signal": 7, "beam": "closed", "part": "after"},
      {"time": "2009-04-08T13:18:17", "signal": 322, "beam": "closed", "part": "after"},
      {"time": "2009-04-08T13:20:13", "signal": 461, "beam": "closed", "part": "after"},
      {"time": "2009-04-08T13:21:32", "signal": 357, "beam": "closed", "part": "after"},
      {"time": "2009-04-08T13:22:30", "signal": 217, "beam": "closed", "part": "after"},
      {"time": "2009-04-08T13:23:25", "signal": 7, "beam": "closed", "part": "after"},
      {"time": "2009-04-08T13:24:57", "signal": 7, "beam": "closed", "part": "after"},
      {"time": "2009-04-08T13:26:16", "signal": 217, "beam": "closed", "part": "after"},
      {"time": "2009-04-08T13:27:48", "signal": -98, "beam": "closed", "part": "after"},
      {"time": "2009-04-08T13:29:40", "signal": -203, "beam": "closed", "part": "after"},
      {"time": "2009-04-08T13:31:02", "signal": -168, "beam": "closed", "part": "after"},
      {"time": "2009-04-08T13:32:21", "signal": 182, "beam": "closed", "part": "after"},
      {"time": "2009-04-08T13:33:53", "signal": -133, "beam": "closed", "part": "after"},
      {"time": "2009-04-08T13:34:48", "signal": -378, "beam": "closed", "part": "after"},
      {"time": "2009-04-08T13:36:10", "signal": -203, "beam": "closed", "part": "after"},
      {"time": "2009-04-08T13:37:39", "signal": -28, "beam": "closed", "part": "after"},
      {"time": "2009-04-08T13:39:35", "signal": 42, "beam": "closed", "part": "after"},
      {"time": "2009-04-08T13:41:28", "signal": 182, "beam": "closed", "part": "after"},
      {"time": "2009-04-08T13:43:00", "signal": -63, "beam": "closed", "part": "after"},
      {"time": "2009-04-08T13:44:18", "signal": -273, "beam": "closed", "part": "after"},
      {"time": "2009-04-08T13:45:37", "signal": -63, "beam": "closed", "part": "after"},
      {"time": "2009-04-08T13:47:09", "signal": -273, "beam": "closed", "part": "after"},
      {"time": "2009-04-08T13:48:41", "signal": -63, "beam": "closed", "part": "after"},
      {"time": "2009-04-08T13:50:00", "signal": -98, "beam": "closed", "part": "after"},
      {"time": "2009-04-08T13:51:19", "signal": -63, "beam": "closed", "part": "after"},
      {"time": "2009-04-08T13:52:51", "signal": -273, "beam": "closed", "part": "after"},
      {"time": "2009-04-08T13:54:23", "signal": 147, "beam": "closed", "part": "after"},
      {"time": "2009-04-08T13:55:41", "signal": -308, "beam": "closed", "part": "after"},
      {"time": "2009-04-08T13:57:00", "signal": 147, "beam": "closed", "part": "after"},
      {"time": "2009-04-08T13:58:32", "signal": 252, "beam": "closed", "part": "after"},
      {"time": "2009-04-08T14:00:05", "signal": 7, "beam": "closed", "part": "after"},
      {"time": "2009-04-08T14:00:59", "signal": 636, "beam": "closed", "part": "after"},
      {"time": "2009-04-08T14:01:57", "signal": 881, "beam": "closed", "part": "after"},
      {"time": "2009-04-08T14:03:16", "signal": 776, "beam": "closed", "part": "after"},
      {"time": "2009-04-08T14:04:14", "signal": 7, "beam": "closed", "part": "after"},
      {"time": "2009-04-08T14:05:46", "signal": 7, "beam": "closed", "part": "after"},
      {"time": "2009-04-08T14:07:05", "signal": 147, "beam": "closed", "part": "after"},
      {"time": "2009-04-08T14:08:23", "signal": 7, "beam": "closed", "part": "after"},
      {"time": "2009-04-08T14:09:56", "signal": -273, "beam": "closed", "part": "after"},
      {"time": "2009-04-08T14:11:28", "signal": 77, "beam": "closed", "part": "after"},
      {"time": "2009-04-08T14:12:46", "signal": -308, "beam": "closed", "part": "after"},
      {"time": "2009-04-08T14:14:05", "signal": 112, "beam": "closed", "part": "after"},
      {"time": "2009-04-08T14:15:37", "signal": -203, "beam": "closed", "part": "after"},
      {"time": "2009-04-08T14:17:10", "signal": -238, "beam": "closed", "part": "after"},
      {"time": "2009-04-08T14:18:28", "signal": 7, "beam": "closed", "part": "after"},
      {"time": "2009-04-08T14:19:46", "signal": -98, "beam": "closed", "part": "after"},
      {"time": "2009-04-08T14:21:19", "signal": 182, "beam": "closed", "part": "after"},
      {"time": "2009-04-08T14:22:50", "signal": -413, "beam": "closed", "part": "after"},
      {"time": "2009-04-08T14:24:10", "signal": 182, "beam": "closed", "part": "after"},
      {"time": "2009-04-08T14:25:07", "signal": -483, "beam": "closed", "part": "after"},
      {"time": "2009-04-08T14:26:26", "signal": -63, "beam": "closed", "part": "after"},
      {"time": "2009-04-08T14:27:58", "signal": -273, "beam": "closed", "part": "after"},
      {"time": "2009-04-08T14:29:27", "signal": -168, "beam": "closed", "part": "after"},
      {"time": "2009-04-08T14:30:49", "signal": -98, "beam": "closed", "part": "after"},
      {"time": "2009-04-08T14:31:44", "signal": -447, "beam": "closed", "part": "after"},
      {"time": "2009-04-08T14:32:42", "signal": -63, "beam": "closed", "part": "after"},
      {"time": "2009-04-08T14:34:34", "signal": -28, "beam": "closed", "part": "after"},
      {"time": "2009-04-08T14:35:56", "signal": 42, "beam": "closed", "part": "after"},
      {"time": "2009-04-08T14:37:25", "signal": 287, "beam": "closed", "part": "after"},
      {"time": "2009-04-08T14:38:57", "signal": 112, "beam": "closed", "part": "after"},
      {"time": "2009-04-08T14:40:16", "signal": 252, "beam": "closed", "part": "after"},
      {"time": "2009-04-08T14:41:38", "signal": 287, "beam": "closed", "part": "after"},
      {"time": "2009-04-08T14:43:07", "signal": 252, "beam": "closed", "part": "after"},
      {"time": "2009-04-08T14:44:39", "signal": 322, "beam": "closed", "part": "after"},
      {"time": "2009-04-08T14:45:58", "signal": 77, "beam": "closed", "part": "after"},
      {"time": "2009-04-08T14:47:20", "signal": 357, "beam": "closed", "part": "after"},
      {"time": "2009-04-08T14:48:49", "signal": 287, "beam": "closed", "part": "after"},
      {"time": "2009-04-08T14:50:20", "signal": -273, "beam": "closed", "part": "after"},
      {"time": "2009-04-08T14:51:39", "signal": -203, "beam": "closed", "part": "after"},
      {"time": "2009-04-08T14:53:01", "signal": 182, "beam": "closed", "part": "after"},
      {"time": "2009-04-08T14:54:30", "signal": -168, "beam": "closed", "part": "after"},
      {"time": "2009-04-08T14:56:02", "signal": 426, "beam": "closed", "part": "after"},
      {"time": "2009-04-08T14:57:20", "signal": -273, "beam": "closed", "part": "after"},
      {"time": "2009-04-08T14:58:43", "signal": 287, "beam": "closed", "part": "after"},
      {"time": "2009-04-08T15:00:11", "signal": 217, "beam": "closed", "part": "after"},
      {"time": "2009-04-08T15:01:34", "signal": -168, "beam": "closed", "part": "after"},
      {"time": "2009-04-08T15:03:02", "signal": -238, "beam": "closed", "part": "after"},
      {"time": "2009-04-08T15:04:25", "signal": -63, "beam": "closed", "part": "after"},
      {"time": "2009-04-08T15:05:53", "signal": -63, "beam": "closed", "part": "after"},
      {"time": "2009-04-08T15:07:25", "signal": -98, "beam": "closed", "part": "after"},
      {"time": "2009-04-08T15:08:44", "signal": -28, "beam": "closed", "part": "after"},
      {"time": "2009-04-08T15:10:06", "signal": -168, "beam": "closed", "part": "after"},
      {"time": "2009-04-08T15:11:35", "signal": 77, "beam": "closed", "part": "after"},
      {"time": "2009-04-08T15:13:07", "signal": -273, "beam": "closed", "part": "after"},
      {"time": "2009-04-08T15:14:26", "signal": 77, "beam": "closed", "part": "after"},
      {"time": "2009-04-08T15:15:48", "signal": 147, "beam": "closed", "part": "after"},
      {"time": "2009-04-08T15:17:17", "signal": -587, "beam": "closed", "part": "after"},
      {"time": "2009-04-08T15:18:49", "signal": 112, "beam": "closed", "part": "after"},
      {"time": "2009-04-08T15:20:07", "signal": 287, "beam": "closed", "part": "after"},
      {"time": "2009-04-08T15:21:05", "signal": 461, "beam": "closed", "part": "after"},
      {"time": "2009-04-08T15:22:38", "signal": 426, "beam": "closed", "part": "after"},
      {"time": "2009-04-08T15:23:56", "signal": -238, "beam": "closed", "part": "after"},
      {"time": "2009-04-08T15:25:15", "signal": 252, "beam": "closed", "part": "after"},
      {"time": "2009-04-08T15:26:47", "signal": 182, "beam": "closed", "part": "after"},
      {"time": "2009-04-08T15:28:19", "signal": -238, "beam": "closed", "part": "after"},
      {"time": "2009-04-08T15:29:38", "signal": 182, "beam": "closed", "part": "after"},
      {"time": "2009-04-08T15:30:56", "signal": 182, "beam": "closed", "part": "after"},
      {"time": "2009-04-08T15:32:29", "signal": -378, "beam": "closed", "part": "after"},
      {"time": "2009-04-08T15:33:47", "signal": 182, "beam": "closed", "part": "after"},
      {"time": "2009-04-08T15:34:44", "signal": 7, "beam": "closed", "part": "after"},
      {"time": "2009-04-08T15:36:17", "signal": -168, "beam": "closed", "part": "after"},
      {"time": "2009-04-08T15:37:46", "signal": 112, "beam": "closed", "part": "after"},
      {"time": "2009-04-08T15:39:08", "signal": -63, "beam": "closed", "part": "after"},
      {"time": "2009-04-08T15:40:26", "signal": 112, "beam": "closed", "part": "after"},
      {"time": "2009-04-08T15:41:59", "signal": 322, "beam": "closed", "part": "after"},
      {"time": "2009-04-08T15:43:28", "signal": -63, "beam": "closed", "part": "after"},
      {"time": "2009-04-08T15:44:49", "signal": 287, "beam": "closed", "part": "after"},
      {"time": "2009-04-08T15:46:08", "signal": 287, "beam": "closed", "part": "after"},
      {"time": "2009-04-08T15:47:40", "signal": -238, "beam": "closed", "part": "after"},
      {"time": "2009-04-08T15:49:09", "signal": 322, "beam": "closed", "part": "after"},
      {"time": "2009-04-08T15:50:31", "signal": 252, "beam": "closed", "part": "after"},
      {"time": "2009-04-08T15:52:00", "signal": -343, "beam": "closed", "part": "after"},
      {"time": "2009-04-08T15:53:22", "signal": -273, "beam": "closed", "part": "after"},
      {"time": "2009-04-08T15:54:51", "signal": 7, "beam": "closed", "part": "after"},
      {"time": "2009-04-08T15:56:13", "signal": 252, "beam": "closed", "part": "after"},
      {"time": "2009-04-08T15:57:07", "signal": 7, "beam": "closed", "part": "after"},
      {"time": "2009-04-08T15:58:40", "signal": -63, "beam": "closed", "part": "after"},
      {"time": "2009-04-08T15:59:58", "signal": 77, "beam": "closed", "part": "after"},
      {"time": "2009-04-08T16:01:55", "signal": 42, "beam": "closed", "part": "after"},
      {"time": "2009-04-08T16:03:47", "signal": 77, "beam": "closed", "part": "after"}
    ],
    "legend_box": [
      {"start": "2009-04-08T12:09:48", "end": "2009-04-08T15:56:13", "top": -1238, "bottom": -4804}
    ],
    "legend_lines": [
      {"start": "2009-04-08T12:15:30", "end": "2009-04-08T12:41:41", "level": -1678, "beam": "closed", "part": "legend"},
      {"start": "2009-04-08T12:15:30", "end": "2009-04-08T12:41:41", "level": -2251, "beam": "open", "part": "legend"},
      {"start": "2009-04-08T12:15:30", "end": "2009-04-08T12:41:41", "level": -3615, "beam": "closed", "part": "correlated"},
      {"start": "2009-04-08T12:45:50", "end": "2009-04-08T13:12:02", "level": -3615, "beam": "open", "part": "correlated"},
      {"start": "2009-04-08T12:15:30", "end": "2009-04-08T12:41:41", "level": -4399, "beam": "closed", "part": "all"},
      {"start": "2009-04-08T12:45:50", "end": "2009-04-08T13:12:02", "level": -4399, "beam": "open", "part": "all"}
    ],
    "legend_text": [
      {"at": "2009-04-08T12:46:48", "level": -1846, "label": "detrended beam closed signal"},
      {"at": "2009-04-08T12:46:48", "level": -2427, "label": "detrended beam open signal"},
      {"at": "2009-04-08T12:12:56", "level": -2985, "label": "Correlations:"},
      {"at": "2009-04-08T13:13:51", "level": -3812, "label": ": R"},
      {"at": "2009-04-08T13:41:28", "level": -3812, "label": "= 0.625"},
      {"at": "2009-04-08T13:13:51", "level": -4573, "label": ": R"},
      {"at": "2009-04-08T13:41:28", "level": -4573, "label": "= 0.286"}
    ],
    "legend_superscripts": [
      {"at": "2009-04-08T13:32:38", "level": -3441, "label": "2"},
      {"at": "2009-04-08T13:32:38", "level": -4238, "label": "2"}
    ]
  },
  "spacing": 0,
  "bounds": "flush",
  "resolve": {
    "scale": {"x": "shared", "y": "independent", "color": "shared"},
    "axis": {"x": "independent", "y": "independent"}
  },
  "vconcat": [
    {
      "width": 695,
      "height": 286,
      "resolve": {"axis": {"y": "independent"}},
      "layer": [
        {
          "data": {"name": "signals"},
          "transform": [{"filter": "datum.beam == 'open'"}],
          "mark": {"type": "line", "strokeWidth": 4.5},
          "encoding": {
            "x": {
              "field": "time", "type": "temporal",
              "scale": {"domain": [
                {"year": 2009, "month": 4, "date": 8, "hours": 9, "minutes": 28, "seconds": 58},
                {"year": 2009, "month": 4, "date": 8, "hours": 16, "minutes": 4, "seconds": 31}
              ]},
              "axis": {
                "orient": "top", "offset": 6, "tickSize": 19, "labels": false, "title": null,
                "values": [
                  {"year": 2009, "month": 4, "date": 8, "hours": 10},
                  {"year": 2009, "month": 4, "date": 8, "hours": 11},
                  {"year": 2009, "month": 4, "date": 8, "hours": 12},
                  {"year": 2009, "month": 4, "date": 8, "hours": 13},
                  {"year": 2009, "month": 4, "date": 8, "hours": 14},
                  {"year": 2009, "month": 4, "date": 8, "hours": 15},
                  {"year": 2009, "month": 4, "date": 8, "hours": 16}
                ]
              }
            },
            "y": {
              "field": "signal", "type": "quantitative",
              "scale": {"domain": [-3000, 3000], "nice": false, "zero": false},
              "axis": {
                "orient": "left", "tickSize": 19, "labelPadding": 8,
                "values": [-3000, -2000, -1000, 0, 1000, 2000, 3000],
                "labelExpr": "datum.value + ''",
                "title": "signal / Hz",
                "titleX": -123, "titleY": 290,
                "titleAlign": "center", "titleBaseline": "middle", "titleAngle": 270
              }
            },
            "color": {
              "condition": {"test": "datum.part == 'correlated'", "value": "#ff0000"},
              "field": "beam", "type": "nominal",
              "scale": {"domain": ["closed", "open"], "range": ["#00f000", "#0033cc"]},
              "legend": null
            },
            "detail": {"field": "part", "type": "nominal"}
          }
        },
        {
          "data": {"name": "legend_box"},
          "mark": {"type": "rect", "fill": "white", "stroke": "black", "strokeWidth": 2},
          "encoding": {
            "x": {"field": "start", "type": "temporal", "axis": {"title": null}},
            "x2": {"field": "end"},
            "y": {
              "field": "top", "type": "quantitative",
              "axis": {"orient": "right", "tickSize": 19, "labels": false, "title": null,
                       "values": [-3000, -2000, -1000, 0, 1000, 2000, 3000]}
            },
            "y2": {"field": "bottom"}
          }
        },
        {
          "data": {"name": "legend_lines"},
          "mark": {"type": "rule", "strokeWidth": 4.5, "strokeCap": "butt"},
          "encoding": {
            "x": {"field": "start", "type": "temporal", "axis": {"title": null}},
            "x2": {"field": "end"},
            "y": {"field": "level", "type": "quantitative", "axis": null},
            "color": {
              "condition": {"test": "datum.part == 'correlated'", "value": "#ff0000"},
              "field": "beam", "type": "nominal", "legend": null
            }
          }
        },
        {
          "data": {"name": "legend_text"},
          "mark": {"type": "text", "align": "left", "baseline": "alphabetic", "fontSize": 24, "font": "Liberation Sans", "color": "black"},
          "encoding": {
            "x": {"field": "at", "type": "temporal", "axis": {"title": null}},
            "y": {"field": "level", "type": "quantitative", "axis": null},
            "text": {"field": "label", "type": "nominal"}
          }
        },
        {
          "data": {"name": "legend_superscripts"},
          "mark": {"type": "text", "align": "left", "baseline": "alphabetic", "fontSize": 14, "font": "Liberation Sans", "color": "black"},
          "encoding": {
            "x": {"field": "at", "type": "temporal", "axis": {"title": null}},
            "y": {"field": "level", "type": "quantitative", "axis": null},
            "text": {"field": "label", "type": "nominal"}
          }
        }
      ]
    },
    {
      "width": 695,
      "height": 286,
      "resolve": {"axis": {"y": "independent"}},
      "layer": [
        {
          "data": {"name": "signals"},
          "transform": [{"filter": "datum.beam == 'closed'"}],
          "mark": {"type": "line", "strokeWidth": 4.5},
          "encoding": {
            "x": {
              "field": "time", "type": "temporal",
              "scale": {"domain": [
                {"year": 2009, "month": 4, "date": 8, "hours": 9, "minutes": 28, "seconds": 58},
                {"year": 2009, "month": 4, "date": 8, "hours": 16, "minutes": 4, "seconds": 31}
              ]},
              "axis": {
                "orient": "bottom", "offset": 6,
                "tickSize": {"condition": {"test": "hours(datum.value) % 2 == 0", "value": 17}, "value": 13},
                "labelPadding": 14, "labelLineHeight": 26, "labelFlush": false, "labelOverlap": false,
                "labelExpr": "hours(datum.value) == 10 ? ['10:00', '08.04.2009'] : (hours(datum.value) % 2 == 0 ? timeFormat(datum.value, '%H:%M') : '')",
                "values": [
                  {"year": 2009, "month": 4, "date": 8, "hours": 10},
                  {"year": 2009, "month": 4, "date": 8, "hours": 11},
                  {"year": 2009, "month": 4, "date": 8, "hours": 12},
                  {"year": 2009, "month": 4, "date": 8, "hours": 13},
                  {"year": 2009, "month": 4, "date": 8, "hours": 14},
                  {"year": 2009, "month": 4, "date": 8, "hours": 15},
                  {"year": 2009, "month": 4, "date": 8, "hours": 16}
                ],
                "title": "date, time",
                "titleX": 301, "titleY": 76, "titleAlign": "center", "titleBaseline": "alphabetic"
              }
            },
            "y": {
              "field": "signal", "type": "quantitative",
              "scale": {"domain": [-3000, 3000], "nice": false, "zero": false},
              "axis": {
                "orient": "left", "tickSize": 19, "labelPadding": 8,
                "values": [-3000, -2000, -1000, 0, 1000, 2000, 3000],
                "labelExpr": "datum.value + ''",
                "title": null
              }
            },
            "color": {
              "condition": {"test": "datum.part == 'correlated'", "value": "#ff0000"},
              "field": "beam", "type": "nominal", "legend": null
            },
            "detail": {"field": "part", "type": "nominal"}
          }
        },
        {
          "data": {"name": "signals"},
          "transform": [{"filter": "datum.beam == 'closed'"}],
          "mark": {"type": "line", "opacity": 0},
          "encoding": {
            "x": {"field": "time", "type": "temporal", "axis": {"title": "date, time"}},
            "y": {
              "field": "signal", "type": "quantitative",
              "axis": {"orient": "right", "tickSize": 19, "labels": false, "title": null,
                       "values": [-3000, -2000, -1000, 0, 1000, 2000, 3000]}
            },
            "detail": {"field": "part", "type": "nominal"}
          }
        }
      ]
    }
  ]
}
